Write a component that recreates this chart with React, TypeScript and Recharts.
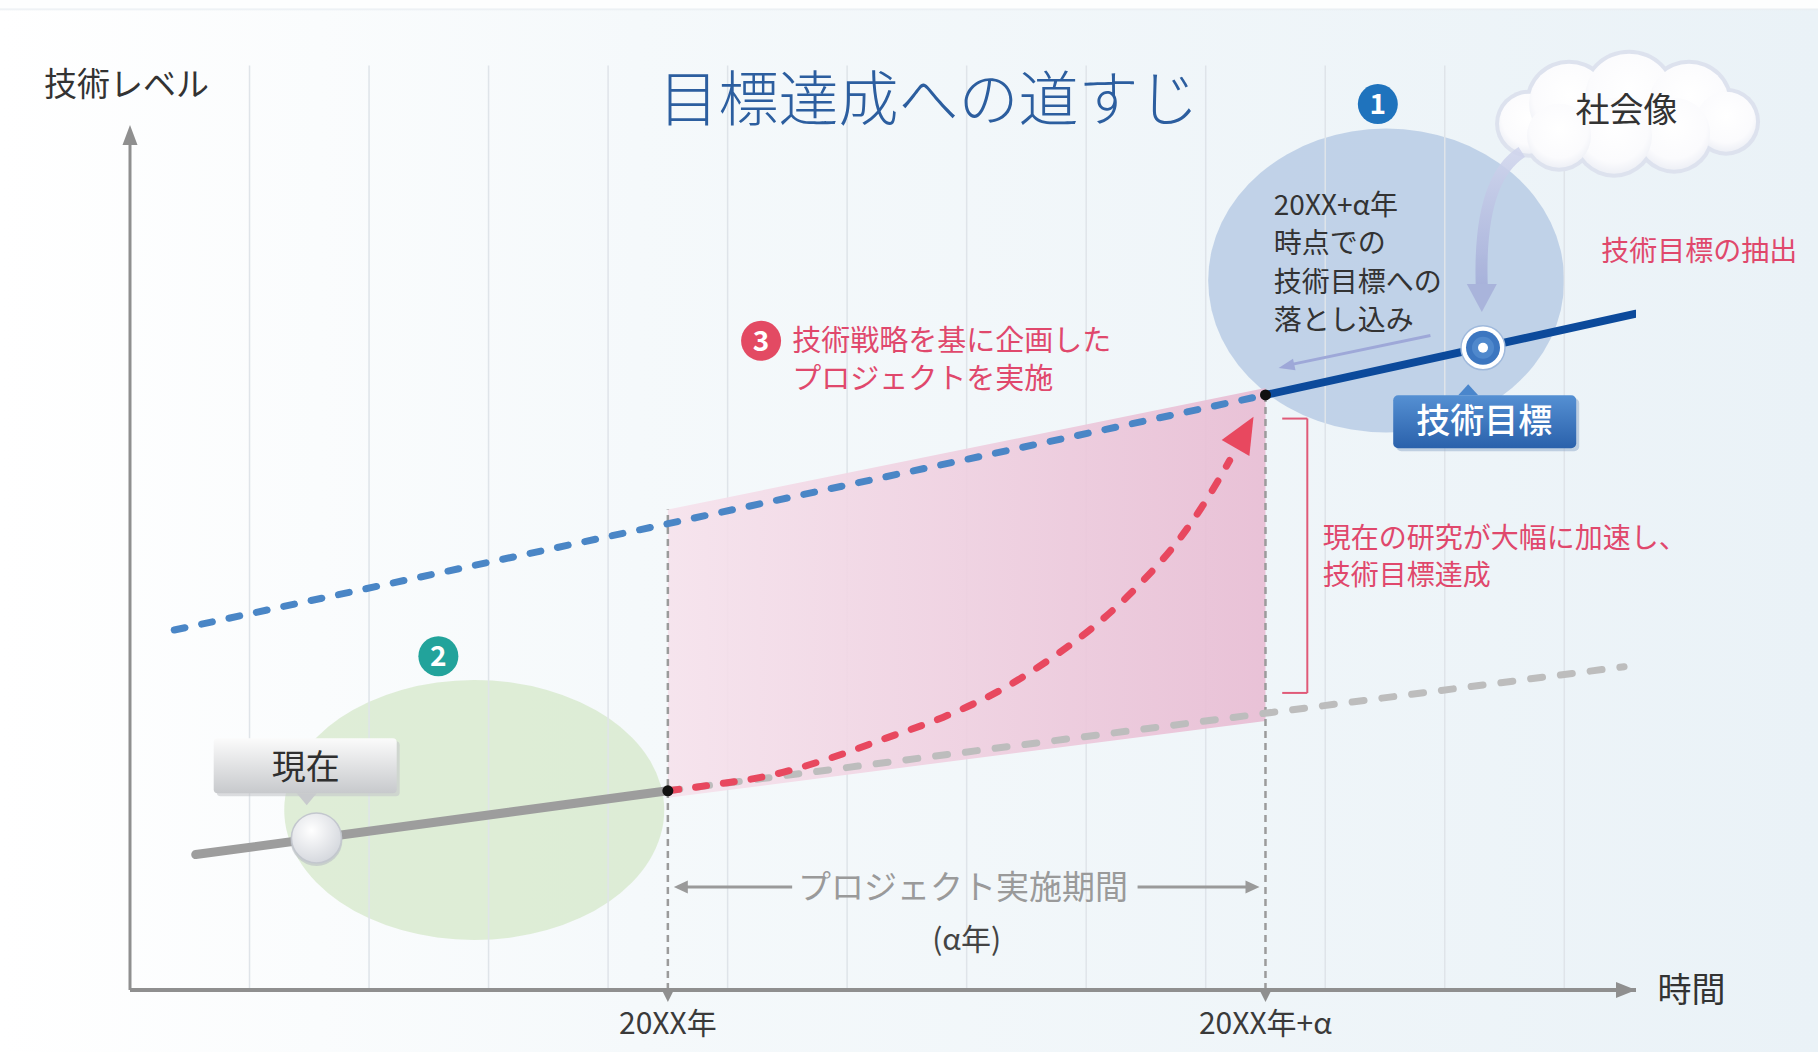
import React from 'react'
import { ComposedChart, Line, Area, XAxis, YAxis, ReferenceLine, ReferenceDot } from 'recharts'

// time axis: 0 = y axis, one unit per grid column; level axis: 0..99
const gridTimes = [1, 2, 3, 4, 5, 6, 7, 8, 9, 10, 11, 12]
const xTicks = [4.5, 9.5]
const xTickLabels = ['20XX年', '20XX年+α']

const currentLine = [{ t: 0.55, v: 15.5 }, { t: 4.5, v: 22.8 }]
const currentTrend = [{ t: 4.5, v: 22.8 }, { t: 12.5, v: 37.0 }]
const targetTrend = [{ t: 0.37, v: 41.2 }, { t: 9.5, v: 68.1 }]
const targetLine = [{ t: 9.5, v: 68.1 }, { t: 12.6, v: 77.4 }]
const projectCurve = [
  { t: 4.5, v: 22.8 },
  { t: 4.88, v: 23.5 },
  { t: 5.37, v: 24.6 },
  { t: 5.85, v: 26.5 },
  { t: 6.32, v: 28.8 },
  { t: 6.8, v: 31.2 },
  { t: 7.28, v: 34.3 },
  { t: 7.69, v: 37.8 },
  { t: 8.1, v: 42.0 },
  { t: 8.48, v: 46.9 },
  { t: 8.79, v: 51.8 },
  { t: 9.02, v: 56.4 },
  { t: 9.2, v: 60.6 },
]
const projectBand = [
  { t: 4.5, band: [22.0, 55.0] },
  { t: 9.5, band: [30.8, 68.9] },
]

const FONT = "'Noto Sans CJK JP', 'Noto Sans', sans-serif"
const RED = '#e0486c'
const CURVE_RED = '#e8485f'
const AXIS = '#8f8f8f'

function textShape(lines: string[], size: number, color: string, anchor = 'start', lh = 0, weight = 400) {
  return (p: any) => (
    <text x={p.cx} y={p.cy} fontFamily={FONT} fontSize={size} fill={color} textAnchor={anchor} fontWeight={weight}>
      {lines.map((l, i) => (
        <tspan key={i} x={p.cx} dy={i === 0 ? '0.36em' : lh}>
          {l}
        </tspan>
      ))}
    </text>
  )
}

function arrowHead(len: number, w: number, angle: number, color: string, opacity = 1) {
  return (p: any) => (
    <polygon
      points={`0,0 ${-len},${-w / 2} ${-len},${w / 2}`}
      fill={color}
      opacity={opacity}
      transform={`translate(${p.cx},${p.cy}) rotate(${angle})`}
    />
  )
}

function ellipseShape(rx: number, ry: number, fill: string, opacity: number) {
  return (p: any) => <ellipse cx={p.cx} cy={p.cy} rx={rx} ry={ry} fill={fill} opacity={opacity} />
}

function badge(num: string, color: string) {
  return (p: any) => (
    <g>
      <circle cx={p.cx} cy={p.cy} r={20} fill={color} />
      <text x={p.cx} y={p.cy} dy="0.36em" textAnchor="middle" fontFamily={FONT} fontSize={28} fontWeight={700} fill="#fff">
        {num}
      </text>
    </g>
  )
}

const puffs = [
  [-95, 10, 30],
  [-55, -10, 40],
  [5, -16, 44],
  [65, -10, 40],
  [102, 8, 30],
  [50, 20, 36],
  [-10, 22, 38],
  [-65, 22, 32],
]

const cloudShape = (p: any) => (
  <g>
    {puffs.map(([dx, dy, r], i) => (
      <circle key={'s' + i} cx={p.cx + dx} cy={p.cy + dy} r={r + 4} fill="#dde2ee" />
    ))}
    {puffs.map(([dx, dy, r], i) => (
      <circle key={'f' + i} cx={p.cx + dx} cy={p.cy + dy} r={r} fill="url(#cloudGrad)" />
    ))}
  </g>
)

const nowBoxShape = (p: any) => (
  <g>
    <rect x={p.cx - 89} y={p.cy - 25} width={183} height={55} rx={4} fill="#c4c6c9" opacity={0.6} />
    <rect x={p.cx - 92} y={p.cy - 28} width={183} height={55} rx={4} fill="url(#nowGrad)" />
    <polygon points={`${p.cx - 9},${p.cy + 27} ${p.cx + 11},${p.cy + 27} ${p.cx + 1},${p.cy + 39}`} fill="#c8cacd" />
    <text x={p.cx} y={p.cy} dy="0.36em" textAnchor="middle" fontFamily={FONT} fontSize={34} fill="#2f2f2f">
      現在
    </text>
  </g>
)

const targetBoxShape = (p: any) => (
  <g>
    <rect x={p.cx - 88} y={p.cy - 23} width={183} height={53} rx={5} fill="#8fa9c9" opacity={0.5} />
    <polygon points={`${p.cx - 26},${p.cy - 26} ${p.cx - 6},${p.cy - 26} ${p.cx - 16},${p.cy - 37}`} fill="#4a86cc" />
    <rect x={p.cx - 91} y={p.cy - 26} width={183} height={53} rx={5} fill="url(#targetGrad)" />
    <text x={p.cx} y={p.cy} dy="0.36em" textAnchor="middle" fontFamily={FONT} fontSize={34} fontWeight={500} fill="#fff">
      技術目標
    </text>
  </g>
)

const nowMarkerShape = (p: any) => (
  <g>
    <circle cx={p.cx} cy={p.cy + 2} r={26} fill="#b9bdc4" opacity={0.6} />
    <circle cx={p.cx} cy={p.cy} r={25} fill="url(#nowMarker)" stroke="#c3c7ce" strokeWidth={1.5} />
  </g>
)

const targetMarkerShape = (p: any) => (
  <g>
    <circle cx={p.cx} cy={p.cy} r={22} fill="#ffffff" stroke="#9fb9dc" strokeWidth={1.5} />
    <circle cx={p.cx} cy={p.cy} r={17} fill="#3c76c0" />
    <circle cx={p.cx} cy={p.cy} r={11} fill="#4f88cc" />
    <circle cx={p.cx} cy={p.cy} r={5} fill="#ffffff" />
  </g>
)

const blackDot = (p: any) => <circle cx={p.cx} cy={p.cy} r={5.5} fill="#111" />

const curvedArrowShape = (p: any) => (
  <g opacity={0.85}>
    <path
      d={`M ${p.cx + 40} ${p.cy - 160} Q ${p.cx - 4} ${p.cy - 132} ${p.cx} ${p.cy - 24}`}
      fill="none"
      stroke="url(#cloudArrow)"
      strokeWidth={12}
    />
    <polygon points={`${p.cx - 15},${p.cy - 28} ${p.cx + 15},${p.cy - 28} ${p.cx},${p.cy}`} fill="#a6afd9" />
  </g>
)

function XTick(props: any) {
  const { x, y, payload } = props
  const label = xTickLabels[xTicks.indexOf(payload.value)]
  return (
    <g>
      <polygon points={`${x - 6},${y - 8} ${x + 6},${y - 8} ${x},${y + 4}`} fill={AXIS} />
      <text x={x} y={y + 25} dy="0.36em" textAnchor="middle" fontFamily={FONT} fontSize={30} fill="#3a3a3a">
        {label}
      </text>
    </g>
  )
}

const dotProps = { r: 0, ifOverflow: 'visible' as const, fill: 'none', stroke: 'none' }

export default function App() {
  return (
    <div
      style={{
        position: 'absolute',
        left: 0,
        top: 0,
        width: 1818,
        height: 1052,
        overflow: 'hidden',
        background:
          'linear-gradient(180deg, #fdfefe 0px, #fdfefe 8px, #e9eef2 9px, rgba(255,255,255,0) 11px), linear-gradient(90deg, #ffffff 0%, #f5f9fb 35%, #eaf2f7 100%)',
      }}
    >
      <ComposedChart width={1818} height={1052} margin={{ top: 125, right: 182, bottom: 0, left: 130 }}>
        <defs>
          <linearGradient id="pinkGrad" x1="0" y1="0" x2="1" y2="0">
            <stop offset="0%" stopColor="#f6e2ec" />
            <stop offset="100%" stopColor="#e8bcd3" />
          </linearGradient>
          <radialGradient id="cloudGrad" cx="50%" cy="40%" r="60%">
            <stop offset="0%" stopColor="#ffffff" />
            <stop offset="75%" stopColor="#fbfbfd" />
            <stop offset="100%" stopColor="#eef0f6" />
          </radialGradient>
          <linearGradient id="nowGrad" x1="0" y1="0" x2="0" y2="1">
            <stop offset="0%" stopColor="#fbfbfb" />
            <stop offset="100%" stopColor="#c7c9cc" />
          </linearGradient>
          <linearGradient id="targetGrad" x1="0" y1="0" x2="0" y2="1">
            <stop offset="0%" stopColor="#5590d3" />
            <stop offset="100%" stopColor="#2a61ab" />
          </linearGradient>
          <radialGradient id="nowMarker" cx="40%" cy="35%" r="70%">
            <stop offset="0%" stopColor="#ffffff" />
            <stop offset="100%" stopColor="#d3d6dc" />
          </radialGradient>
          <linearGradient id="cloudArrow" x1="0" y1="0" x2="0" y2="1">
            <stop offset="0%" stopColor="#cfd4ec" />
            <stop offset="100%" stopColor="#a3acd8" />
          </linearGradient>
        </defs>

        <XAxis
          type="number"
          dataKey="t"
          domain={[0, 12.6]}
          ticks={xTicks}
          interval={0}
          allowDataOverflow
          height={62}
          tickLine={false}
          axisLine={{ stroke: AXIS, strokeWidth: 4 }}
          tick={<XTick />}
          zIndex={500}
        />
        <YAxis type="number" domain={[0, 99]} allowDataOverflow hide />

        {/* soft background blobs */}
        <ReferenceDot {...dotProps} x={10.51} y={81.2} shape={ellipseShape(178, 152, '#b3c8e3', 0.78)} zIndex={1} />
        <ReferenceDot {...dotProps} x={2.88} y={20.6} shape={ellipseShape(190, 130, '#d3e7c6', 0.7)} zIndex={1} />

        {gridTimes.map((g) => (
          <ReferenceLine
            key={g}
            segment={[{ x: g, y: 0 }, { x: g, y: 105.8 }]}
            stroke="#dfe4e9"
            strokeWidth={1.5}
            ifOverflow="visible"
            zIndex={2}
          />
        ))}

        <Area
          data={projectBand}
          dataKey="band"
          type="linear"
          stroke="none"
          fill="url(#pinkGrad)"
          fillOpacity={0.9}
          isAnimationActive={false}
          activeDot={false}
          zIndex={3}
        />

        <ReferenceLine segment={[{ x: 4.5, y: 0 }, { x: 4.5, y: 55 }]} stroke="#9b9b9b" strokeWidth={2.5} strokeDasharray="7 5" ifOverflow="visible" zIndex={4} />
        <ReferenceLine segment={[{ x: 9.5, y: 0 }, { x: 9.5, y: 68.5 }]} stroke="#9b9b9b" strokeWidth={2.5} strokeDasharray="7 5" ifOverflow="visible" zIndex={4} />

        <Line data={currentTrend} dataKey="v" type="linear" stroke="#bdbdbd" strokeWidth={7} strokeDasharray="12 18" strokeLinecap="round" dot={false} activeDot={false} isAnimationActive={false} zIndex={5} />
        <Line data={targetTrend} dataKey="v" type="linear" stroke="#4a86c6" strokeWidth={7} strokeDasharray="11 17" strokeLinecap="round" dot={false} activeDot={false} isAnimationActive={false} zIndex={5} />
        <Line data={currentLine} dataKey="v" type="linear" stroke="#9d9d9d" strokeWidth={9} strokeLinecap="round" dot={false} activeDot={false} isAnimationActive={false} zIndex={6} />
        <Line data={targetLine} dataKey="v" type="linear" stroke="#0c4a9b" strokeWidth={8} strokeLinecap="round" dot={false} activeDot={false} isAnimationActive={false} zIndex={6} />
        <Line data={projectCurve} dataKey="v" type="monotone" stroke={CURVE_RED} strokeWidth={7} strokeDasharray="11 17" strokeLinecap="round" dot={false} activeDot={false} isAnimationActive={false} zIndex={6} />
        <ReferenceDot {...dotProps} x={9.4} y={65.6} shape={arrowHead(36, 32, -60, CURVE_RED)} zIndex={6} />

        {/* bracket */}
        <ReferenceLine segment={[{ x: 9.85, y: 34.0 }, { x: 9.85, y: 65.4 }]} stroke="#e05a78" strokeWidth={2} ifOverflow="visible" zIndex={6} />
        <ReferenceLine segment={[{ x: 9.64, y: 65.4 }, { x: 9.85, y: 65.4 }]} stroke="#e05a78" strokeWidth={2} ifOverflow="visible" zIndex={6} />
        <ReferenceLine segment={[{ x: 9.64, y: 34.0 }, { x: 9.85, y: 34.0 }]} stroke="#e05a78" strokeWidth={2} ifOverflow="visible" zIndex={6} />

        {/* project period arrows */}
        <ReferenceLine segment={[{ x: 4.6, y: 11.8 }, { x: 5.54, y: 11.8 }]} stroke="#9a9a9a" strokeWidth={3} ifOverflow="visible" zIndex={6} />
        <ReferenceLine segment={[{ x: 8.43, y: 11.8 }, { x: 9.4, y: 11.8 }]} stroke="#9a9a9a" strokeWidth={3} ifOverflow="visible" zIndex={6} />
        <ReferenceDot {...dotProps} x={4.55} y={11.8} shape={arrowHead(14, 13, 180, '#9a9a9a')} zIndex={6} />
        <ReferenceDot {...dotProps} x={9.45} y={11.8} shape={arrowHead(14, 13, 0, '#9a9a9a')} zIndex={6} />

        {/* y axis line and axis arrowheads */}
        <ReferenceLine segment={[{ x: 0, y: 0 }, { x: 0, y: 97 }]} stroke={AXIS} strokeWidth={3} ifOverflow="visible" zIndex={500} />
        <ReferenceDot {...dotProps} x={12.6} y={0} shape={arrowHead(20, 16, 0, AXIS)} zIndex={501} />
        <ReferenceDot {...dotProps} x={0} y={99} shape={arrowHead(20, 15, -90, AXIS)} zIndex={501} />

        {/* arrows around the target */}
        <ReferenceLine segment={[{ x: 10.88, y: 74.9 }, { x: 9.72, y: 71.6 }]} stroke="#9ea8d8" strokeWidth={3} ifOverflow="visible" zIndex={6} />
        <ReferenceDot {...dotProps} x={9.61} y={71.2} shape={arrowHead(16, 12, 167.7, '#9ea8d8')} zIndex={6} />
        <ReferenceDot {...dotProps} x={12.5} y={100.3} shape={cloudShape} zIndex={7} />
        <ReferenceDot {...dotProps} x={11.31} y={77.6} shape={curvedArrowShape} zIndex={7} />

        {/* markers */}
        <ReferenceDot {...dotProps} x={4.5} y={22.8} shape={blackDot} zIndex={8} />
        <ReferenceDot {...dotProps} x={9.5} y={68.1} shape={blackDot} zIndex={8} />
        <ReferenceDot {...dotProps} x={1.56} y={17.4} shape={nowMarkerShape} zIndex={8} />
        <ReferenceDot {...dotProps} x={11.32} y={73.5} shape={targetMarkerShape} zIndex={8} />
        <ReferenceDot {...dotProps} x={1.47} y={25.6} shape={nowBoxShape} zIndex={9} />
        <ReferenceDot {...dotProps} x={11.33} y={65.1} shape={targetBoxShape} zIndex={9} />

        {/* badges */}
        <ReferenceDot {...dotProps} x={10.44} y={101.4} shape={badge('1', '#1f73bd')} zIndex={9} />
        <ReferenceDot {...dotProps} x={2.58} y={38.2} shape={badge('2', '#22a39b')} zIndex={9} />
        <ReferenceDot {...dotProps} x={5.28} y={74.3} shape={badge('3', '#e34a63')} zIndex={9} />

        {/* texts */}
        <ReferenceDot {...dotProps} x={6.68} y={101.9} shape={textShape(['目標達成への道すじ'], 60, '#2c5e9f', 'middle', 0, 300)} zIndex={10} />
        <ReferenceDot {...dotProps} x={-0.72} y={103.7} shape={textShape(['技術レベル'], 33, '#333')} zIndex={10} />
        <ReferenceDot {...dotProps} x={12.78} y={0} shape={textShape(['時間'], 34, '#333')} zIndex={10} />
        <ReferenceDot {...dotProps} x={12.52} y={100.7} shape={textShape(['社会像'], 34, '#333', 'middle')} zIndex={10} />
        <ReferenceDot {...dotProps} x={9.57} y={89.9} shape={textShape(['20XX+α年', '時点での', '技術目標への', '落とし込み'], 28, '#333', 'start', 38.5)} zIndex={10} />
        <ReferenceDot {...dotProps} x={12.31} y={84.6} shape={textShape(['技術目標の抽出'], 28, RED)} zIndex={10} />
        <ReferenceDot {...dotProps} x={5.54} y={74.3} shape={textShape(['技術戦略を基に企画した', 'プロジェクトを実施'], 29, RED, 'start', 38)} zIndex={10} />
        <ReferenceDot {...dotProps} x={9.98} y={51.7} shape={textShape(['現在の研究が大幅に加速し、', '技術目標達成'], 28, RED, 'start', 37)} zIndex={10} />
        <ReferenceDot {...dotProps} x={6.97} y={11.8} shape={textShape(['プロジェクト実施期間'], 33, '#9a9a9a', 'middle')} zIndex={10} />
        <ReferenceDot {...dotProps} x={7.0} y={5.8} shape={textShape(['(α年)'], 30, '#444', 'middle')} zIndex={10} />
      </ComposedChart>
    </div>
  )
}
